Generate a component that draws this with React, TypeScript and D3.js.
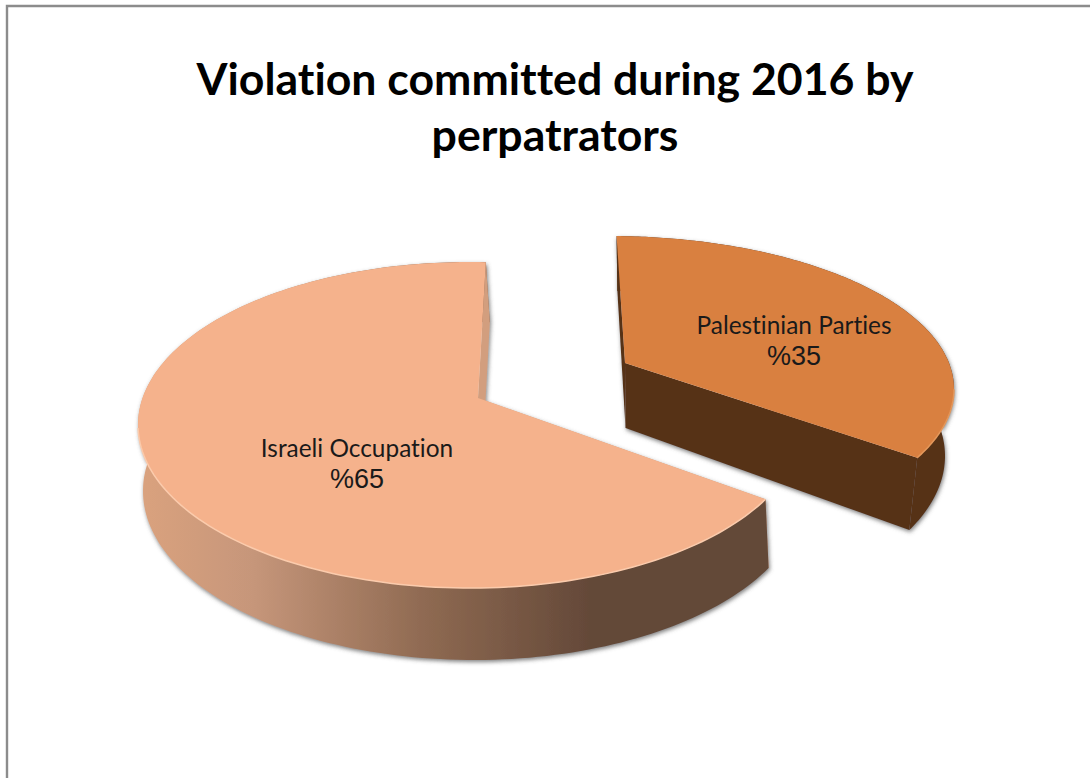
import React, { useMemo } from "react";
import * as d3 from "d3";

// ---- data -----
const categories = ["Israeli Occupation", "Palestinian Parties"];
const shares = [65, 35];
const shareLabels = ["%65", "%35"];
const titleLines = ["Violation committed during 2016 by", "perpatrators"];

// ---- layout ----
type Ell = { cx: number; cy: number; rx: number; ry: number };
type Geo = {
  top: Ell;
  bottom: Ell;
  apexTop: [number, number];
  label: [number, number];
  nudge: [number, number];
};
const geometry: Geo[] = [
  {
    top: { cx: 470, cy: 425, rx: 332, ry: 163 },
    bottom: { cx: 474, cy: 491, rx: 331, ry: 169 },
    apexTop: [478, 398],
    label: [357, 457],
    nudge: [-0.03, 0],
  },
  {
    top: { cx: 609, cy: 389, rx: 345, ry: 153 },
    bottom: { cx: 610, cy: 456, rx: 335, ry: 165 },
    apexTop: [625, 363],
    label: [794, 334],
    nudge: [-0.055, -0.022],
  },
];
const ROTATION = 2 * Math.PI * 0.35 + 0.03;

// Perspective map of a pie angle onto an ellipse: the circle's centre lands on the apex
function rimPoint(e: Ell, ax: number, ay: number, theta: number): [number, number] {
  const kx = (ax - e.cx) / e.rx;
  const ky = (ay - e.cy) / e.ry;
  const n = Math.hypot(kx, ky);
  const f = 1 / (1 + Math.sqrt(1 - n * n));
  const a = kx * f;
  const b = ky * f;
  const zr = Math.cos(theta - Math.PI / 2);
  const zi = Math.sin(theta - Math.PI / 2);
  const nr = zr + a;
  const ni = zi + b;
  const dr = 1 + (a * zr + b * zi);
  const di = a * zi - b * zr;
  const m = dr * dr + di * di;
  const wr = (nr * dr + ni * di) / m;
  const wi = (ni * dr - nr * di) / m;
  return [e.cx + e.rx * wr, e.cy + e.ry * wi];
}

export default function App() {
  const arcs = useMemo(
    () =>
      d3
        .pie<number>()
        .sort(null)
        .startAngle(ROTATION)
        .endAngle(ROTATION + 2 * Math.PI)(shares),
    []
  );
  const line = d3.line();
  const topColors = ["#F5B28C", "#D98040"];
  const rimColors = ["#FBCBAC", "#E4975A"];
  const wallColors = ["#D29E7E", "#573216"];

  return (
    <div style={{ position: "fixed", left: 0, top: 0 }}>
      <svg width={1090} height={778} style={{ display: "block", background: "#fff", fontVariantLigatures: "none" }}>
        <defs>
          <linearGradient id="sideBig" gradientUnits="userSpaceOnUse" x1={140} x2={770} y1={0} y2={0}>
            <stop offset="0" stopColor="#DAA27E" />
            <stop offset="0.18" stopColor="#C6967A" />
            <stop offset="0.45" stopColor="#8F6A52" />
            <stop offset="0.72" stopColor="#634838" />
            <stop offset="1" stopColor="#634838" />
          </linearGradient>
          <filter id="soft" x="-10%" y="-10%" width="120%" height="125%">
            <feDropShadow dx={1} dy={2} stdDeviation={2} floodColor="#555" floodOpacity={0.75} />
          </filter>
          <filter id="rimBlur" x="-5%" y="-5%" width="110%" height="110%">
            <feGaussianBlur stdDeviation={0.7} />
          </filter>
        </defs>

        <path d="M7,778 L7,6 L1090,6" fill="none" stroke="#8C8C8C" strokeWidth={2.4} />

        {titleLines.map((t, i) => (
          <text
            key={t}
            x={555}
            y={95 + i * 56}
            textAnchor="middle"
            fontFamily="Lato"
            fontWeight={700}
            fontSize={44.6}
            fill="#000"
          >
            {t}
          </text>
        ))}

        {arcs.map((a, i) => {
          const g = geometry[i];
          const [ax, ay] = g.apexTop;
          const bkx = g.bottom.cx + ((ax - g.top.cx) / g.top.rx) * g.bottom.rx;
          const bky = g.bottom.cy + ((ay - g.top.cy) / g.top.ry) * g.bottom.ry;
          const s = a.startAngle + g.nudge[0];
          const e = a.endAngle + g.nudge[1];
          const angles = d3.range(0, 181).map((k) => s + ((e - s) * k) / 180);
          const topRim = angles.map((t) => rimPoint(g.top, ax, ay, t));
          const botRim = angles.map((t) => rimPoint(g.bottom, bkx, bky, t));
          const side = line([...topRim, ...[...botRim].reverse()]) + "Z";
          const face = line([[ax, ay], ...topRim]) + "Z";
          const w1 = line([[ax, ay], topRim[0], botRim[0], [bkx, bky]]) + "Z";
          const w2 = line([[ax, ay], topRim[180], botRim[180], [bkx, bky]]) + "Z";
          const isBig = i === 0;
          return (
            <g key={categories[i]}>
              <g filter="url(#soft)">
                <path d={w1} fill={wallColors[i]} />
                <path d={side} fill={isBig ? "url(#sideBig)" : wallColors[i]} />
                <path d={w2} fill={wallColors[i]} />
              </g>
              <path d={face} fill={topColors[i]} />
              <path
                d={line(topRim.filter((p) => p[1] >= g.top.cy)) as string}
                fill="none"
                stroke={rimColors[i]}
                strokeWidth={1.5}
                filter="url(#rimBlur)"
              />
            </g>
          );
        })}

        {arcs.map((a, i) => (
          <g key={"l" + i} fill="#1a1a1a" textAnchor="middle">
            <text x={geometry[i].label[0]} y={geometry[i].label[1]} fontFamily="Lato" fontSize={24.4}>
              {categories[i]}
            </text>
            <text
              x={geometry[i].label[0]}
              y={geometry[i].label[1] + 31}
              fontFamily="Liberation Sans"
              fontSize={27}
            >
              {shareLabels[i]}
            </text>
          </g>
        ))}
      </svg>
    </div>
  );
}
